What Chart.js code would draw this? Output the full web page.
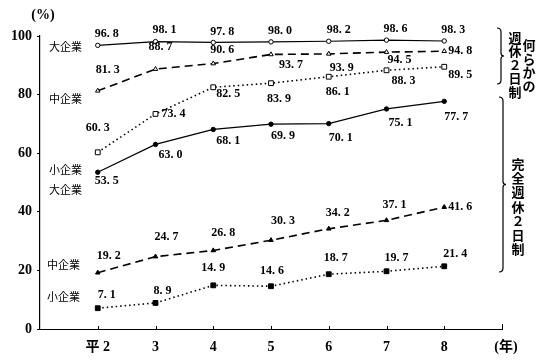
<!DOCTYPE html>
<html>
<head>
<meta charset="utf-8">
<script src="https://cdn.jsdelivr.net/npm/chart.js@4.4.0/dist/chart.umd.min.js"></script>
<style>
html, body { margin: 0; padding: 0; background: #fff; }
#wrap { width: 547px; height: 360px; position: relative; }
</style>
</head>
<body>
<div id="wrap"><canvas id="grafico"></canvas></div>
<script>
// anni (x) e etichette
var anni = [2, 3, 4, 5, 6, 7, 8];
var etichetteAnni = ['平 2', '3', '4', '5', '6', '7', '8'];

// 何らかの週休2日制
var nanrakaDai = [96.8, 98.1, 97.8, 98.0, 98.2, 98.6, 98.3];
var nanrakaChu = [81.3, 88.7, 90.6, 93.7, 93.9, 94.5, 94.8];
var nanrakaSho = [60.3, 73.4, 82.5, 83.9, 86.1, 88.3, 89.5];

// 完全週休2日制
var kanzenDai = [53.5, 63.0, 68.1, 69.9, 70.1, 75.1, 77.7];
var kanzenChu = [19.2, 24.7, 26.8, 30.3, 34.2, 37.1, 41.6];
var kanzenSho = [7.1, 8.9, 14.9, 14.6, 18.7, 19.7, 21.4];

var numFont = "bold 12px 'Liberation Serif', 'DejaVu Serif', serif";
var cjkFont = "11px 'Noto Sans CJK JP', sans-serif";
var cjkBold = "bold 13px 'Noto Sans CJK JP', sans-serif";

function punti(valori) {
    return anni.map(function (a, i) { return { x: a, y: valori[i] }; });
}

function serie(valori, forma, pieno, tratteggio, spessore) {
    var raggio = forma === 'rect' ? 3.4 : (forma === 'triangle' ? 2.6 : 2.2);
    return {
        data: punti(valori),
        borderColor: '#000',
        borderWidth: spessore,
        borderDash: tratteggio,
        backgroundColor: pieno ? '#000' : '#fff',
        pointStyle: forma,
        pointRadius: raggio,
        pointBorderWidth: 1,
        pointBorderColor: '#000',
        pointBackgroundColor: pieno ? '#000' : '#fff',
        tension: 0,
        clip: false
    };
}

// spostamento etichette rispetto al punto [dx, dy]
var posEtichette = [
    [[9, -11], [9, -12], [9, -11], [9, -11], [10, -11], [9, -11], [9, -11]],
    [[10, -21], [5, -22], [9, -14], [20, 10], [13, 14], [13, 8], [16, 0]],
    [[0, -24], [18, 0], [15, 7], [8, 16], [9, 15], [17, 11], [16, 8]],
    [[9, 9], [15, 10], [15, 11], [12, 12], [12, 14], [14, 14], [12, 16]],
    [[11, -17], [11, -20], [10, -18], [12, -19], [9, -16], [8, -15], [16, 0]],
    [[9, -13], [7, -12], [0, -17], [1, -15], [7, -16], [10, -13], [11, -12]]
];

var etichettePlugin = {
    id: 'etichette',
    afterDatasetsDraw: function (chart) {
        var ctx = chart.ctx;
        ctx.save();
        ctx.font = numFont;
        ctx.fillStyle = '#000';
        ctx.textAlign = 'center';
        ctx.textBaseline = 'middle';
        chart.data.datasets.forEach(function (ds, d) {
            var meta = chart.getDatasetMeta(d);
            meta.data.forEach(function (pt, i) {
                var off = posEtichette[d][i];
                var txt = ds.data[i].y.toFixed(1).replace('.', '. ');
                ctx.fillText(txt, pt.x + off[0], pt.y + off[1]);
            });
        });
        ctx.restore();
    }
};

function graffa(ctx, x, top, bottom) {
    var mid = (top + bottom) / 2;
    ctx.beginPath();
    ctx.moveTo(x - 4, top);
    ctx.quadraticCurveTo(x, top, x, top + 4);
    ctx.lineTo(x, mid - 3);
    ctx.quadraticCurveTo(x, mid, x + 3, mid);
    ctx.quadraticCurveTo(x, mid, x, mid + 3);
    ctx.lineTo(x, bottom - 4);
    ctx.quadraticCurveTo(x, bottom, x - 4, bottom);
    ctx.stroke();
}

function verticale(ctx, testo, x, y, passo) {
    for (var i = 0; i < testo.length; i++) {
        ctx.fillText(testo[i], x, y + i * passo);
    }
}

var notePlugin = {
    id: 'note',
    afterDraw: function (chart) {
        var ctx = chart.ctx;
        var xs = chart.scales.x;
        var area = chart.chartArea;
        ctx.save();
        ctx.fillStyle = '#000';
        ctx.strokeStyle = '#000';
        ctx.lineWidth = 1;

        // tacche verso l'interno sull'asse x
        ctx.beginPath();
        xs.ticks.forEach(function (t) {
            if (t.value < 2) return;
            var px = Math.round(xs.getPixelForValue(t.value)) + 0.5;
            var h = t.value === 9 ? 5 : 3;
            ctx.moveTo(px, area.bottom);
            ctx.lineTo(px, area.bottom - h);
        });
        ctx.stroke();

        ctx.lineWidth = 1.2;
        ctx.textBaseline = 'middle';
        ctx.font = "bold 14px 'Liberation Serif', 'Noto Sans CJK JP', serif";
        ctx.textAlign = 'center';
        ctx.fillText('(%)', 43, 15);
        ctx.fillText('(年)', 506, 347);

        // nomi delle serie
        ctx.font = cjkFont;
        ctx.textAlign = 'left';
        ctx.fillText('大企業', 49, 47);
        ctx.fillText('中企業', 49, 99);
        ctx.fillText('小企業', 49, 170);
        ctx.fillText('大企業', 49, 190);
        ctx.fillText('中企業', 47, 265);
        ctx.fillText('小企業', 47, 297);

        // graffe e testo verticale a destra
        graffa(ctx, 501, 28, 84);
        graffa(ctx, 503, 97, 272);
        ctx.font = cjkBold;
        ctx.textAlign = 'center';
        verticale(ctx, '週休２日制', 515, 38, 13.5);
        verticale(ctx, '何らかの', 529, 45, 13.7);
        verticale(ctx, '完全週休２日制', 518, 164, 14.2);
        ctx.restore();
    }
};

var ctx = document.getElementById('grafico');
var chart = new Chart(ctx, {
    type: 'line',
    data: {
        datasets: [
            serie(nanrakaDai, 'circle', false, [], 1.2),
            serie(nanrakaChu, 'triangle', false, [8, 5], 1.6),
            serie(nanrakaSho, 'rect', false, [1.5, 3], 1.6),
            serie(kanzenDai, 'circle', true, [], 1.2),
            serie(kanzenChu, 'triangle', true, [8, 5], 1.6),
            serie(kanzenSho, 'rect', true, [1.5, 3], 1.6)
        ]
    },
    options: {
        responsive: true,
        maintainAspectRatio: false,
        animation: false,
        layout: { padding: { left: 0, right: 45, top: 36, bottom: 0 } },
        plugins: { legend: { display: false }, tooltip: { enabled: false } },
        scales: {
            x: {
                type: 'linear',
                min: 1,
                max: 9,
                afterFit: function (s) { s.height = 31; },
                border: { display: true, color: '#000', width: 1 },
                grid: { drawOnChartArea: false, drawTicks: false },
                ticks: {
                    stepSize: 1,
                    autoSkip: false,
                    maxRotation: 0,
                    padding: 10,
                    color: '#000',
                    font: { family: "'Liberation Serif', 'Noto Sans CJK JP', serif", size: 14, weight: 'bold' },
                    callback: function (v) {
                        var i = anni.indexOf(v);
                        return i >= 0 ? etichetteAnni[i] : '';
                    }
                }
            },
            y: {
                min: 0,
                max: 100,
                afterFit: function (s) { s.width = 40; },
                border: { display: true, color: '#000', width: 1.2 },
                grid: { drawOnChartArea: false, drawTicks: true, tickLength: 3, color: '#000' },
                ticks: {
                    stepSize: 20,
                    padding: 5,
                    color: '#000',
                    font: { family: "'Liberation Serif', serif", size: 14, weight: 'bold' }
                }
            }
        }
    },
    plugins: [etichettePlugin, notePlugin]
});
</script>
</body>
</html>
